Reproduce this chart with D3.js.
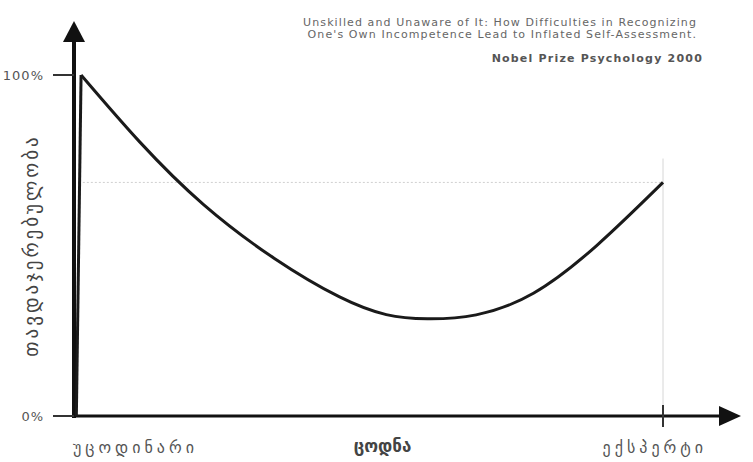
<!DOCTYPE html>
<html>
<head>
<meta charset="utf-8">
<script src="https://cdn.jsdelivr.net/npm/d3@7"></script>
<style>
  body { margin: 0; background: white; }
  svg { display: block; }
</style>
</head>
<body>
<div id="chart"></div>
<script>
// Data: competence (0-100) vs confidence (%)
const competence = [0.4, 1.2, 22, 45, 60, 78, 100];
const confidence = [0, 100, 62, 35, 28.5, 36, 68.5];
const peakIndex = 1;
const yTicks = [0, 100];
const yTickLabels = ["0%", "100%"];
const xTicks = [0, 100];
const xTickLabels = ["უცოდინარი", "ექსპერტი"];
const xTitle = "ცოდნა";
const yTitle = "თავდაჯერებულობა";
const expertLevel = 68.5;
const sourceLines = [
  "Unskilled and Unaware of It: How Difficulties in Recognizing",
  "One's Own Incompetence Lead to Inflated Self-Assessment."
];
const sourceNote = "Nobel Prize Psychology  2000";

const width = 753, height = 462;
const margin = {top: 75, right: 90, bottom: 46, left: 74};

const x = d3.scaleLinear([0, 100], [margin.left, width - margin.right]);
const y = d3.scaleLinear([0, 100], [height - margin.bottom, margin.top]);

const svg = d3.select("#chart").append("svg")
  .attr("width", width)
  .attr("height", height)
  .attr("viewBox", [0, 0, width, height])
  .style("font-family", "'DejaVu Sans', sans-serif");

// guide lines for the expert
svg.append("line")
  .attr("x1", x(1.5)).attr("x2", x(100))
  .attr("y1", y(expertLevel)).attr("y2", y(expertLevel))
  .attr("stroke", "#cfcfcf").attr("stroke-width", 1)
  .attr("stroke-dasharray", "2,2");
svg.append("line")
  .attr("x1", x(100)).attr("x2", x(100))
  .attr("y1", y(0)).attr("y2", y(expertLevel + 7))
  .attr("stroke", "#d6d6d6").attr("stroke-width", 1);

// axes
const axisColor = "#111";
const x0 = x(0), yBase = y(0);
svg.append("line")
  .attr("x1", x0).attr("x2", x0)
  .attr("y1", yBase + 2).attr("y2", 38)
  .attr("stroke", axisColor).attr("stroke-width", 4);
svg.append("path")
  .attr("d", `M${x0},21 L${x0 - 11},42 L${x0 + 11},42 Z`)
  .attr("fill", axisColor);
svg.append("line")
  .attr("x1", x0 - 2).attr("x2", 722)
  .attr("y1", yBase).attr("y2", yBase)
  .attr("stroke", axisColor).attr("stroke-width", 3);
svg.append("path")
  .attr("d", `M741,${yBase} L719,${yBase - 10} L719,${yBase + 10} Z`)
  .attr("fill", axisColor);

// y ticks
svg.append("g").selectAll("line")
  .data(yTicks).join("line")
  .attr("x1", x0 - 21).attr("x2", x0)
  .attr("y1", d => y(d)).attr("y2", d => y(d))
  .attr("stroke", "#333").attr("stroke-width", 2);
svg.append("g").selectAll("text")
  .data(yTicks).join("text")
  .attr("x", x0 - 30)
  .attr("y", d => y(d))
  .attr("dy", "0.35em")
  .attr("text-anchor", "end")
  .attr("font-size", 13)
  .attr("letter-spacing", 1)
  .attr("fill", "#555")
  .text((d, i) => yTickLabels[i]);

// x tick at the expert end
svg.append("line")
  .attr("x1", x(100)).attr("x2", x(100))
  .attr("y1", yBase - 11).attr("y2", yBase + 11)
  .attr("stroke", "#333").attr("stroke-width", 2);

svg.append("g").selectAll("text")
  .data(xTicks).join("text")
  .attr("x", d => d === 0 ? x(d) - 1 : x(d) + 44)
  .attr("y", yBase + 37)
  .attr("text-anchor", d => d === 0 ? "start" : "end")
  .attr("font-size", 16)
  .attr("letter-spacing", 4)
  .attr("fill", "#555")
  .text((d, i) => xTickLabels[i]);

svg.append("text")
  .attr("x", x(50) + 14)
  .attr("y", yBase + 36)
  .attr("text-anchor", "middle")
  .attr("font-size", 17)
  .attr("font-weight", "bold")
  .attr("fill", "#444")
  .text(xTitle);

svg.append("text")
  .attr("transform", `translate(38,${(y(0) + y(100)) / 2}) rotate(-90)`)
  .attr("text-anchor", "middle")
  .attr("font-size", 19)
  .attr("letter-spacing", 3)
  .attr("fill", "#444")
  .text(yTitle);

// the curve
const pts = competence.map((c, i) => [c, confidence[i]]);
const line = d3.line().x(d => x(d[0])).y(d => y(d[1]));
svg.append("path")
  .datum(pts.slice(0, peakIndex + 1))
  .attr("d", line.curve(d3.curveLinear))
  .attr("fill", "none").attr("stroke", "#1a1a1a").attr("stroke-width", 3);
svg.append("path")
  .datum(pts.slice(peakIndex))
  .attr("d", line.curve(d3.curveNatural))
  .attr("fill", "none").attr("stroke", "#1a1a1a").attr("stroke-width", 3);

// source note
svg.append("g").selectAll("text")
  .data(sourceLines).join("text")
  .attr("x", 697)
  .attr("y", (d, i) => 26 + i * 12)
  .attr("text-anchor", "end")
  .attr("font-size", 11)
  .attr("letter-spacing", 1.1)
  .attr("fill", "#666")
  .text(d => d);
svg.append("text")
  .attr("x", 703)
  .attr("y", 62)
  .attr("text-anchor", "end")
  .attr("font-size", 11)
  .attr("font-weight", "bold")
  .attr("letter-spacing", 1.2)
  .attr("fill", "#555")
  .text(sourceNote);
</script>
</body>
</html>
